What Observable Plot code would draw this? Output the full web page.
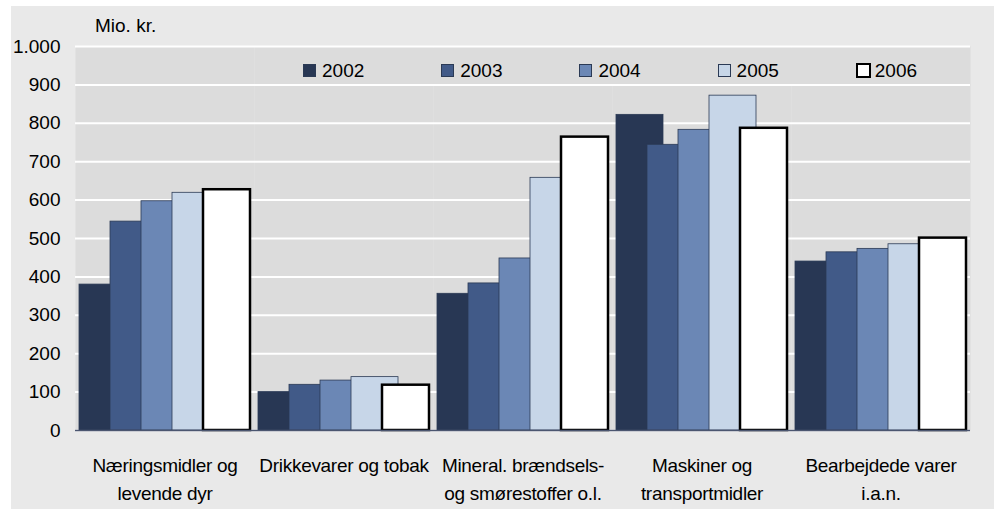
<!DOCTYPE html>
<html><head><meta charset="utf-8">
<script src="https://cdn.jsdelivr.net/npm/d3@7"></script>
<script src="https://cdn.jsdelivr.net/npm/@observablehq/plot@0.6"></script>
<style>
html,body{margin:0;padding:0;background:#fff;width:998px;height:509px;overflow:hidden;font-family:"Liberation Sans",Arial,sans-serif;}
#frame{position:absolute;left:11px;top:6px;width:983px;height:503px;background:#e9e9e9;}
#chart{position:absolute;left:0;top:0;}
#unit{position:absolute;left:95px;top:16px;font-size:19px;line-height:19px;color:#000;white-space:nowrap;}
#legend{position:absolute;left:263px;top:48px;width:705px;height:36px;background:#dcdcdc;}
.sw{position:absolute;top:16px;width:13px;height:13px;box-sizing:border-box;}
.lt{position:absolute;top:13px;font-size:19px;line-height:19px;color:#000;}
g[aria-label="fx-axis tick label"] text{letter-spacing:-0.3px;}
</style>
</head><body>
<div id="frame"></div>
<div id="chart"></div>
<div id="unit">Mio. kr.</div>
<div id="legend"></div>
<script>
const categories = ["Næringsmidler og\nlevende dyr", "Drikkevarer og tobak", "Mineral. brændsels-\nog smørestoffer o.l.", "Maskiner og\ntransportmidler", "Bearbejdede varer\ni.a.n."];
const years = ["2002", "2003", "2004", "2005", "2006"];
const v2002 = [380, 100, 356, 822, 440];
const v2003 = [544, 119, 383, 744, 464];
const v2004 = [597, 130, 448, 783, 473];
const v2005 = [619, 139, 658, 872, 485];
const v2006 = [627, 118, 764, 787, 501];
const yTicks = [0, 100, 200, 300, 400, 500, 600, 700, 800, 900, 1000];
const colors = ["#283754", "#415a88", "#6b87b5", "#c7d6e8", "#ffffff"];

const series = [v2002, v2003, v2004, v2005, v2006];
const data = years.flatMap((y, i) => categories.map((c, j) => ({category: c, year: y, value: series[i][j]})));

const fmt = d3.formatLocale({decimal: ",", thousands: ".", grouping: [3], currency: ["", ""]}).format(",d");

const chart = Plot.plot({
  width: 998, height: 509,
  marginLeft: 75, marginRight: 28, marginTop: 46, marginBottom: 79,
  style: {background: "transparent", fontFamily: "Liberation Sans, Arial, sans-serif", fontSize: "19px", color: "#000", overflow: "visible"},
  fx: {domain: categories, padding: 0, round: true, label: null},
  x: {type: "band", domain: years, paddingInner: -0.516, paddingOuter: 0.129, round: false, axis: null},
  y: {domain: [0, 1000], label: null},
  color: {domain: years, range: colors},
  marks: [
    Plot.frame({fill: "#dcdcdc", stroke: "none"}),
    Plot.gridY(yTicks, {stroke: "white", strokeOpacity: 1, strokeWidth: 2}),
    Plot.barY(data.filter(d => d.year !== "2006"), {fx: "category", x: "year", y: "value", fill: "year", stroke: "#2b3a55", strokeWidth: 0.8}),
    Plot.barY(data.filter(d => d.year === "2006"), {fx: "category", x: "year", y: "value", fill: "year", stroke: "#000", strokeWidth: 2.5}),
    Plot.ruleY([0], {stroke: "#4b5670", strokeWidth: 1.5}),
    Plot.axisY(yTicks, {tickSize: 0, tickPadding: 15, tickFormat: fmt, fontSize: 19, label: null}),
    Plot.axisFx({anchor: "bottom", tickSize: 0, tickPadding: 22, fontSize: 19, lineHeight: 1.45, label: null})
  ]
});
document.getElementById("chart").appendChild(chart);

const legend = document.getElementById("legend");
years.forEach((y, i) => {
  const sw = document.createElement("div");
  sw.className = "sw";
  sw.style.left = (40 + i * 138.2) + "px";
  sw.style.background = colors[i];
  sw.style.border = i === 4 ? "2.5px solid #000" : "1px solid #2b3a55";
  if (i === 4) { sw.style.width = "15px"; sw.style.height = "15px"; sw.style.top = "15px"; }
  legend.appendChild(sw);
  const t = document.createElement("div");
  t.className = "lt";
  t.style.left = (59 + i * 138.2) + "px";
  t.textContent = y;
  legend.appendChild(t);
});
</script>
</body></html>
